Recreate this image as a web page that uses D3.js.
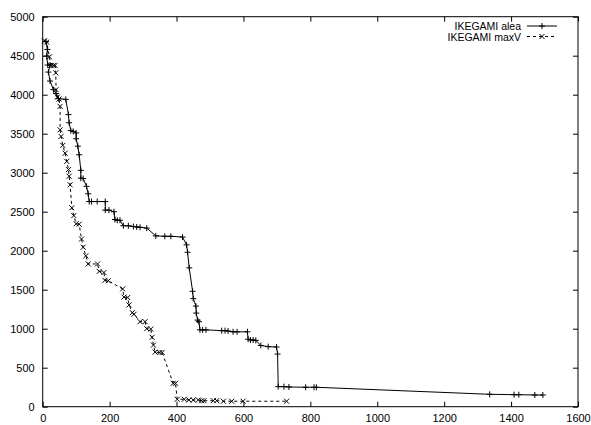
<!DOCTYPE html>
<html>
<head>
<meta charset="utf-8">
<script src="https://cdn.jsdelivr.net/npm/d3@7"></script>
<style>
  body { margin: 0; background: #fff; }
  svg { display: block; }
</style>
</head>
<body>
<div id="plot_area"></div>
<script>
// SVG size and plot box
const w = 591;
const h = 425;
const padLeft = 42.7, padRight = 578, padTop = 16.7, padBottom = 406.7;

// Tick values
const xTicks = [0, 200, 400, 600, 800, 1000, 1200, 1400, 1600];
const yTicks = [0, 500, 1000, 1500, 2000, 2500, 3000, 3500, 4000, 4500, 5000];

// Series names
const seriesNames = ['IKEGAMI alea', 'IKEGAMI maxV'];

// IKEGAMI alea
const aleaX = [10, 14, 12, 15, 22, 17, 22, 32, 40, 47, 69, 77, 79, 84, 91, 100, 100, 105, 109, 114,
  114, 121, 131, 136, 139, 146, 163, 187, 187, 198, 213, 216, 223, 231, 241, 256, 271, 281, 291, 311,
  338, 365, 383, 418, 430, 433, 438, 448, 450, 458, 459, 463, 467, 470, 478, 488, 535, 545, 554, 569,
  581, 612, 614, 621, 629, 637, 652, 674, 699, 702, 704, 721, 736, 786, 811, 818, 1336, 1409, 1423, 1471, 1495];
const aleaY = [4680, 4580, 4495, 4380, 4380, 4290, 4175, 4065, 4015, 3950, 3940, 3745, 3640, 3540, 3530, 3510, 3435, 3340, 3230, 3030,
  2930, 2925, 2825, 2730, 2630, 2630, 2630, 2630, 2520, 2520, 2500, 2400, 2390, 2390, 2320, 2320, 2310, 2305, 2300, 2290,
  2190, 2185, 2185, 2175, 2075, 1980, 1780, 1480, 1385, 1290, 1200, 1110, 1090, 985, 985, 985, 975, 975, 970, 960,
  960, 960, 865, 855, 855, 850, 785, 770, 765, 675, 257, 257, 253, 249, 249, 249, 159, 154, 154, 150, 150];

// IKEGAMI maxV
const maxvX = [5, 12, 20, 24, 32, 37, 39, 40, 44, 49, 52, 52, 55, 60, 67, 72, 77, 79, 82, 87,
  93, 100, 109, 116, 121, 129, 136, 164, 169, 183, 186, 196, 239, 243, 254, 258, 268, 273, 291, 306,
  311, 323, 327, 331, 336, 350, 357, 390, 397, 402, 423, 437, 450, 465, 475, 482, 510, 520, 540, 565, 599, 729];
const maxvY = [4690, 4675, 4485, 4375, 4375, 4375, 4280, 4065, 3970, 3945, 3850, 3550, 3465, 3350, 3250, 3145, 3040, 2955, 2845, 2550,
  2450, 2345, 2340, 2150, 2045, 1935, 1830, 1830, 1735, 1720, 1620, 1615, 1510, 1405, 1400, 1305, 1205, 1185, 1090, 1090,
  1000, 995, 890, 790, 700, 695, 695, 300, 300, 95, 95, 86, 86, 86, 77, 77, 77, 77, 70, 70, 70, 70];

const font = '"Liberation Sans", Arial, Helvetica, sans-serif';

const xScale = d3.scaleLinear().domain([0, 1600]).range([padLeft, padRight]);
const yScale = d3.scaleLinear().domain([0, 5000]).range([padBottom, padTop]);

const svg = d3.select('#plot_area')
  .append('svg')
  .attr('width', w)
  .attr('height', h);

const alea = aleaX.map((x, i) => [x, aleaY[i]]);
const maxv = maxvX.map((x, i) => [x, maxvY[i]]);

const line = d3.line()
  .x((d) => xScale(d[0]))
  .y((d) => yScale(d[1]));

// plus and cross point symbols
function plus(x, y, s) {
  return 'M' + (x - s) + ',' + y + 'H' + (x + s) + 'M' + x + ',' + (y - s) + 'V' + (y + s);
}
function cross(x, y, s) {
  return 'M' + (x - s) + ',' + (y - s) + 'L' + (x + s) + ',' + (y + s) +
         'M' + (x - s) + ',' + (y + s) + 'L' + (x + s) + ',' + (y - s);
}

// Axes (ticks inward, mirrored on top and right)
const tickLen = 5;
const fmt = d3.format('d');
svg.append('g')
  .attr('transform', 'translate(0,' + padBottom + ')')
  .call(d3.axisBottom(xScale).tickValues(xTicks).tickFormat(fmt).tickSizeInner(-tickLen).tickSizeOuter(0).tickPadding(8))
  .call((g) => g.select('.domain').remove());
svg.append('g')
  .attr('transform', 'translate(0,' + padTop + ')')
  .call(d3.axisTop(xScale).tickValues(xTicks).tickSizeInner(-tickLen).tickSizeOuter(0).tickFormat(''))
  .call((g) => g.select('.domain').remove());
svg.append('g')
  .attr('transform', 'translate(' + padLeft + ',0)')
  .call(d3.axisLeft(yScale).tickValues(yTicks).tickFormat(fmt).tickSizeInner(-tickLen).tickSizeOuter(0).tickPadding(8))
  .call((g) => g.select('.domain').remove());
svg.append('g')
  .attr('transform', 'translate(' + padRight + ',0)')
  .call(d3.axisRight(yScale).tickValues(yTicks).tickSizeInner(-tickLen).tickSizeOuter(0).tickFormat(''))
  .call((g) => g.select('.domain').remove());

svg.selectAll('.tick text')
  .style('font-family', font)
  .style('font-size', '11px')
  .attr('fill', '#000');
svg.selectAll('.tick line').attr('stroke', '#000');

// Border
svg.append('rect')
  .attr('x', padLeft)
  .attr('y', padTop)
  .attr('width', padRight - padLeft)
  .attr('height', padBottom - padTop)
  .attr('fill', 'none')
  .attr('stroke', '#000')
  .attr('stroke-width', 1);

// Series lines
svg.append('path')
  .datum(alea)
  .attr('fill', 'none')
  .attr('stroke', '#000')
  .attr('stroke-width', 1)
  .attr('d', line);

svg.append('path')
  .datum(maxv)
  .attr('fill', 'none')
  .attr('stroke', '#000')
  .attr('stroke-width', 1)
  .attr('stroke-dasharray', '3,3')
  .attr('d', line);

// Points
svg.append('path')
  .attr('fill', 'none')
  .attr('stroke', '#000')
  .attr('stroke-width', 1)
  .attr('d', alea.map((d) => plus(xScale(d[0]), yScale(d[1]), 3)).join(''));

svg.append('path')
  .attr('fill', 'none')
  .attr('stroke', '#000')
  .attr('stroke-width', 1)
  .attr('d', maxv.map((d) => cross(xScale(d[0]), yScale(d[1]), 2.5)).join(''));

// Legend
const legX = 521, legY = 26, legStep = 10.5;
seriesNames.forEach(function (name, i) {
  const y = legY + i * legStep;
  svg.append('text')
    .attr('x', legX)
    .attr('y', y)
    .attr('text-anchor', 'end')
    .attr('dominant-baseline', 'central')
    .style('font-family', font)
    .style('font-size', '10.5px')
    .text(name);
  svg.append('line')
    .attr('x1', legX + 6).attr('x2', legX + 36)
    .attr('y1', y).attr('y2', y)
    .attr('stroke', '#000')
    .attr('stroke-dasharray', i === 0 ? null : '3,3');
  svg.append('path')
    .attr('fill', 'none')
    .attr('stroke', '#000')
    .attr('d', i === 0 ? plus(legX + 21, y, 3) : cross(legX + 21, y, 2.5));
});
</script>
</body>
</html>
